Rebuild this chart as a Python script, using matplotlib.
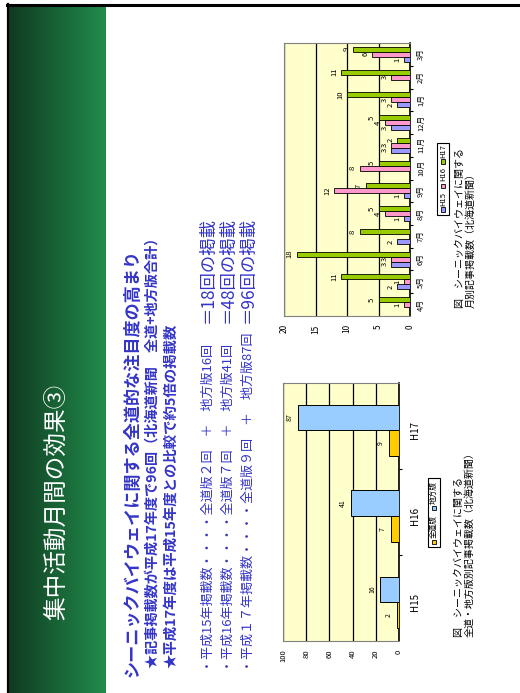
import numpy as np
import matplotlib
matplotlib.use('Agg')
import matplotlib.pyplot as plt
from matplotlib.patches import Rectangle

plt.rcParams['font.family'] = ['Noto Sans CJK JP', 'DejaVu Sans']

# monthly article counts (Hokkaido Shimbun)
months = ['4月', '5月', '6月', '7月', '8月', '9月', '10月', '11月', '12月', '1月', '2月', '3月']
h15 = [0, 2, 3, 2, 1, 1, 0, 3, 3, 2, 0, 1]
h16 = [1, 1, 3, 0, 4, 12, 8, 3, 4, 3, 3, 6]
h17 = [5, 11, 18, 8, 5, 7, 5, 2, 5, 10, 11, 9]
month_series = ['H15', 'H16', 'H17']
month_colors = ['#9999ff', '#ff99cc', '#99cc00']

# yearly totals by edition
years = ['H15', 'H16', 'H17']
zendo = [2, 7, 9]
chiho = [16, 41, 87]
edition_names = ['全道版', '地方版']
edition_colors = ['#ffcc00', '#99ccff']

title = '集中活動月間の効果③'
head = 'シーニックバイウェイに関する全道的な注目度の高まり'
star1 = '★記事掲載数が平成17年度で96回（北海道新聞　全道+地方版合計）'
star2 = '★平成17年度は平成15年度との比較で約5倍の掲載数'
rows = ['・平成15年掲載数・・・・全道版２回　＋　地方版16回',
        '・平成16年掲載数・・・・全道版７回　＋　地方版41回',
        '・平成１７年掲載数・・・・全道版９回　＋　地方版87回']
rows_total = ['＝18回の掲載', '＝48回の掲載', '＝96回の掲載']

W, H = 520, 693
fig = plt.figure(figsize=(W/100., H/100.), dpi=100)
fig.patch.set_facecolor('white')

def fx(x):
    return x/float(W)

def fy(y):
    return 1-y/float(H)

def vtext(x, y, s, size, color='black', weight='normal'):
    # text reads bottom -> top, starting at screen point (x, y)
    fig.text(fx(x), fy(y), s, rotation=90, rotation_mode='anchor',
             ha='left', va='center', fontsize=size, color=color, fontweight=weight)

# green title band
band = fig.add_axes([fx(9), fy(693), fx(106)-fx(9), fy(6)-fy(693)])
grad = np.linspace(0, 1, 200)[None, :]
c0 = np.array([0x10, 0x3a, 0x21])/255.
c1 = np.array([0x21, 0x8c, 0x4b])/255.
img = c0[None, None, :]*(1-grad[..., None]) + c1[None, None, :]*grad[..., None]
band.imshow(img, aspect='auto', extent=[0, 1, 0, 1])
band.set_axis_off()
fig.text(fx(57), fy(502), title, rotation=90, ha='center', va='center',
         fontsize=17, color='white', fontstyle='italic')

# slide frame
fig.add_artist(plt.Line2D([fx(7), fx(520)], [fy(4.5), fy(4.5)], color='black', lw=2.2))
fig.add_artist(plt.Line2D([fx(8), fx(8)], [fy(4), fy(693)], color='black', lw=1.6))

blue = '#3434c8'
vtext(133, 677, head, 12.3, blue, 'bold')
vtext(152, 668, star1, 10.2, blue, 'bold')
vtext(171, 668, star2, 10.4, blue, 'bold')
for i in range(3):
    vtext(208+20*i, 672, rows[i], 9.4, blue)
    vtext(208+20*i, 323, rows_total[i], 12.5, blue)

# ---- monthly chart ----
ax1 = fig.add_axes([fx(284), fy(316), fx(410)-fx(284), fy(43)-fy(316)])
ax1.set_facecolor('#ffffcc')
pos = np.arange(len(months))
bh = 0.22
for k, vals in enumerate([h15, h16, h17]):
    yy = pos + (k-1)*bh
    ax1.barh(yy, vals, height=bh, color=month_colors[k], edgecolor='black', lw=0.6, zorder=3)
    for y0, v in zip(yy, vals):
        if v > 0:
            ax1.annotate(str(v), (v, y0), xytext=(-2, 0), textcoords='offset points',
                         rotation=90, ha='right', va='center', fontsize=5.5)
ax1.set_xlim(20, 0)
ax1.set_ylim(-0.5, len(months)-0.5)
ax1.set_xticks([0, 5, 10, 15, 20])
ax1.set_xticklabels(['0', '5', '10', '15', '20'], rotation=90, fontsize=6)
ax1.xaxis.grid(True, color='black', lw=0.9, zorder=1)
ax1.yaxis.tick_right()
ax1.set_yticks(pos)
ax1.set_yticklabels(months, rotation=90, fontsize=5.5, va='center')
ax1.set_yticks(pos[:-1]+0.5, minor=True)
ax1.tick_params(axis='y', which='major', length=0, pad=5)
ax1.tick_params(axis='y', which='minor', length=2, width=0.8)
ax1.tick_params(axis='x', length=0, pad=6)
for s in ax1.spines.values():
    s.set_color('#808080')
ax1.spines['right'].set_color('black')
ax1.spines['right'].set_linewidth(1.2)

# legend (drawn by hand, rotated)
fig.add_artist(Rectangle((fx(437), fy(215)), fx(449)-fx(437), fy(143)-fy(215),
                         facecolor='white', edgecolor='black', lw=0.8))
for k, name in enumerate(month_series):
    yb = 212-24*k
    fig.add_artist(Rectangle((fx(440.5), fy(yb)), fx(445)-fx(440.5), fy(yb-4.5)-fy(yb),
                             facecolor=month_colors[k], edgecolor='black', lw=0.6))
    vtext(443, yb-6.5, name, 5.5)
vtext(460, 308, '図　シーニックバイウェイに関する', 7.2)
vtext(471, 308, '月別記事掲載数（北海道新聞）', 7.2)

# ---- yearly totals chart ----
ax2 = fig.add_axes([fx(283), fy(641), fx(399)-fx(283), fy(383)-fy(641)])
ax2.set_facecolor('#ffffcc')
ypos = np.arange(len(years))
bh2 = 0.3
for k, vals in enumerate([zendo, chiho]):
    yy = ypos + (k-0.5)*bh2 - 0.05
    ax2.barh(yy, vals, height=bh2, color=edition_colors[k], edgecolor='black', lw=0.7, zorder=3)
    for y0, v in zip(yy, vals):
        ax2.annotate(str(v), (v, y0), xytext=(-3, 0), textcoords='offset points',
                     rotation=90, ha='right', va='center', fontsize=5)
ax2.set_xlim(100, 0)
ax2.set_ylim(-0.5, len(years)-0.5)
ax2.set_xticks([0, 20, 40, 60, 80, 100])
ax2.set_xticklabels(['0', '20', '40', '60', '80', '100'], rotation=90, fontsize=5.5)
ax2.xaxis.grid(True, color='black', lw=0.9, zorder=1)
ax2.yaxis.tick_right()
ax2.set_yticks(ypos - 0.05)
ax2.set_yticklabels(years, rotation=90, fontsize=7, va='center')
ax2.set_yticks(ypos[:-1]+0.5, minor=True)
ax2.tick_params(axis='y', which='major', length=0, pad=8)
ax2.tick_params(axis='y', which='minor', length=2, width=0.8)
ax2.tick_params(axis='x', length=0, pad=6)
for s in ax2.spines.values():
    s.set_color('#808080')
ax2.spines['right'].set_color('black')
ax2.spines['right'].set_linewidth(1.2)

fig.add_artist(Rectangle((fx(428), fy(547)), fx(440)-fx(428), fy(478)-fy(547),
                         facecolor='white', edgecolor='black', lw=0.8))
for k, name in enumerate(edition_names):
    yb = 544-34*k
    fig.add_artist(Rectangle((fx(431.5), fy(yb)), fx(436)-fx(431.5), fy(yb-4.5)-fy(yb),
                             facecolor=edition_colors[k], edgecolor='black', lw=0.6))
    vtext(434, yb-6.5, name, 5.5)
vtext(459, 637, '図　シーニックバイウェイに関する', 7.2)
vtext(470, 637, '全道・地方版別記事掲載数（北海道新聞）', 7.2)

fig.savefig('out.png', dpi=100)
